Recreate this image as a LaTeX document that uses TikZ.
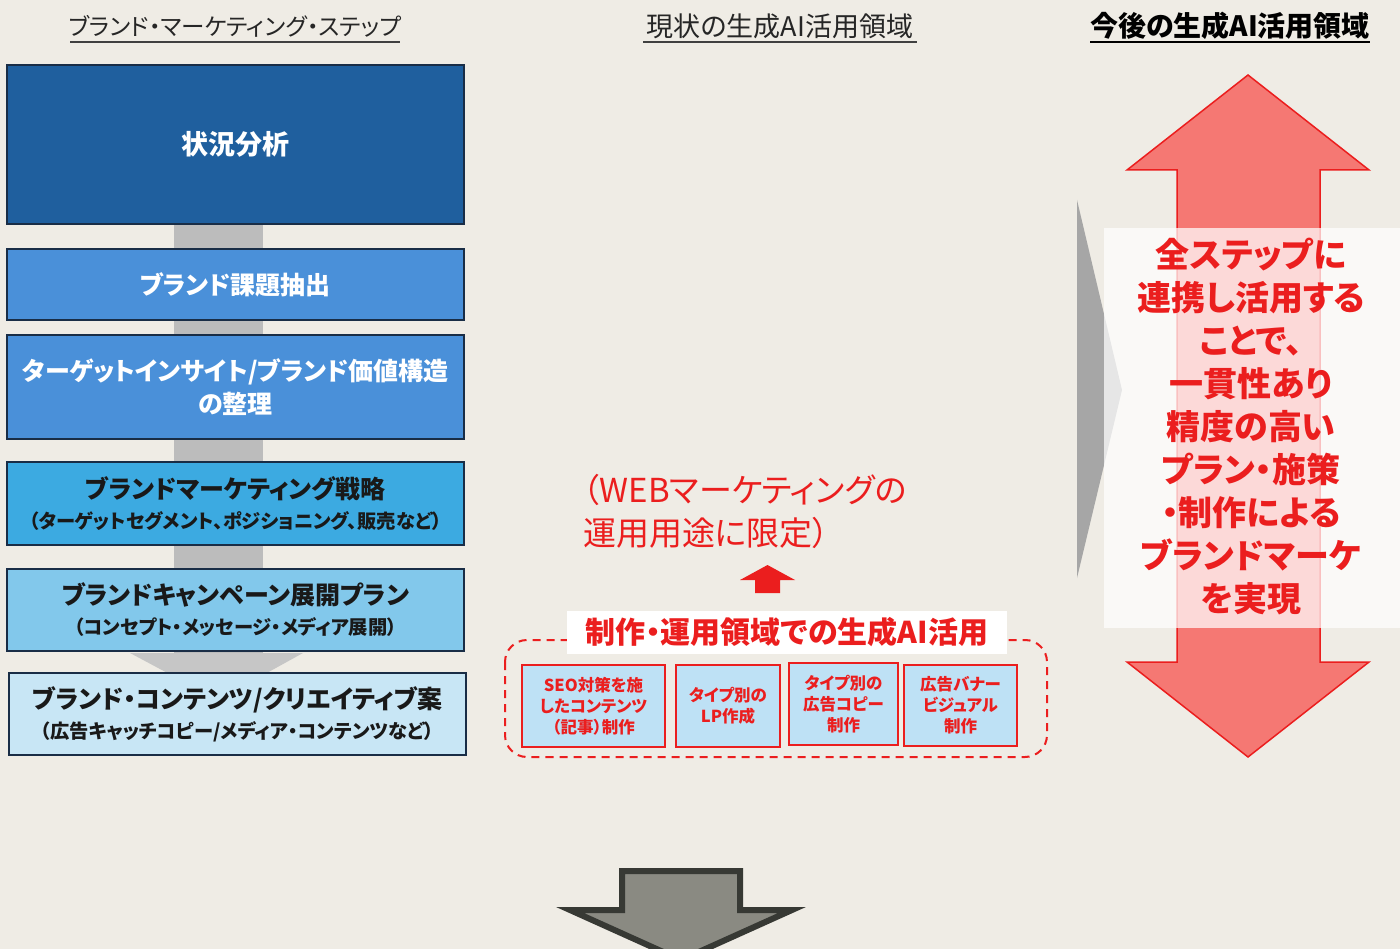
\documentclass[tikz,border=0pt]{standalone}
\usepackage{fontspec}
\setmainfont{Noto Sans CJK JP}[RawFeature=+palt]
\definecolor{bg}{RGB}{239,236,229}
\definecolor{boxline}{RGB}{25,45,70}
\definecolor{c1}{RGB}{31,95,158}
\definecolor{c2}{RGB}{74,144,217}
\definecolor{c4}{RGB}{60,170,225}
\definecolor{c5}{RGB}{130,200,235}
\definecolor{c6}{RGB}{200,230,245}
\definecolor{sb}{RGB}{190,225,245}
\definecolor{redt}{RGB}{235,30,30}
\definecolor{redf}{RGB}{245,120,115}
\definecolor{barg}{RGB}{188,188,188}
\definecolor{arrg}{RGB}{138,138,130}
\definecolor{arrd}{RGB}{55,57,52}
\tikzset{
  stepbox/.style={draw=boxline, line width=1.5pt, minimum width=457pt, align=center, inner sep=0pt},
  subbox/.style={draw=redt, line width=2pt, fill=sb, align=center, inner sep=0pt, text=redt,
     font=\bfseries\fontsize{16.5}{21}\selectfont},
  hdr/.style={anchor=center, inner sep=0pt, text=black!85},
  ttl/.style={font=\bfseries\fontsize{25}{30}\selectfont},
}
\newcommand{\subl}[1]{{\bfseries\fontsize{19.3}{22}\selectfont #1}}
\begin{document}
\begin{tikzpicture}[x=1pt,y=-1pt]
\fill[bg] (0,0) rectangle (1400,949);
\useasboundingbox (0,0) rectangle (1400,949);
% headers
\node[hdr, font=\fontsize{23.5}{28}\selectfont] (h1) at (235,26) {ブランド・マーケティング・ステップ};
\draw[black!75, line width=1.2pt] (70,42) -- (400,42);
\node[hdr, font=\fontsize{27}{30}\selectfont] (h2) at (780,26) {現状の生成AI活用領域};
\draw[black!75, line width=1.2pt] (643,42) -- (917,42);
\node[hdr, font=\bfseries\fontsize{28}{30}\selectfont, text=black] (h3) at (1230,26) {今後の生成AI活用領域};
\draw[black, line width=1.6pt] (1090,42) -- (1370,42);
% gray bar with arrow head
\fill[barg] (174,224) rectangle (263,653);
\fill[barg!85] (130,653) -- (303,653) -- (218,700) -- cycle;
% step boxes
\node[stepbox, fill=c1, minimum height=159pt, text=white, font=\bfseries\fontsize{27}{32}\selectfont] (s1) at (235.5,144.5) {状況分析};
\node[stepbox, fill=c2, minimum height=71pt, text=white, font=\bfseries\fontsize{25}{30}\selectfont] (s2) at (235.5,284.5) {ブランド課題抽出};
\node[stepbox, fill=c2, minimum height=104pt, text=white, font=\bfseries\fontsize{25}{33}\selectfont] (s3) at (235.5,387) {ターゲットインサイト/ブランド価値構造\\の整理};
\node[stepbox, fill=c4, minimum height=83pt, text=black!90, ttl] (s4) at (235.5,503.5) {ブランドマーケティング戦略\\[0pt]\subl{（ターゲットセグメント、ポジショニング、販売など）}};
\node[stepbox, fill=c5, minimum height=82pt, text=black!90, ttl] (s5) at (235.5,610) {ブランドキャンペーン展開プラン\\[0pt]\subl{（コンセプト・メッセージ・メディア展開）}};
\node[stepbox, fill=c6, minimum height=82pt, text=black!90, ttl] (s6) at (237.5,714) {ブランド・コンテンツ/クリエイティブ案\\[0pt]\subl{（広告キャッチコピー/メディア・コンテンツなど）}};
% middle column
\node[anchor=west, inner sep=0pt, text=redt, align=left, font=\fontsize{33}{43}\selectfont] (lim) at (583,511) {（WEBマーケティングの\\運用用途に限定）};
\fill[redt] (755,593) -- (755,580) -- (740,580) -- (767.5,565) -- (795,580) -- (780,580) -- (780,593) -- cycle;
\draw[redt, line width=2pt, dashed, dash pattern=on 8pt off 6pt, rounded corners=22pt] (505,640) rectangle (1047,757);
\node[fill=white, minimum width=440pt, minimum height=43pt, inner sep=0pt, text=redt, font=\bfseries\fontsize{30}{32}\selectfont] (lab) at (787,632) {制作・運用領域での生成AI活用};
\node[subbox, minimum width=143pt, minimum height=82pt] (a) at (593.5,706) {SEO対策を施\\したコンテンツ\\（記事）制作};
\node[subbox, minimum width=104pt, minimum height=82pt] (b) at (728,706) {タイプ別の\\LP作成};
\node[subbox, minimum width=109pt, minimum height=82pt] (c) at (843.5,704) {タイプ別の\\広告コピー\\制作};
\node[subbox, minimum width=113pt, minimum height=81pt] (d) at (960.5,705.5) {広告バナー\\ビジュアル\\制作};
% right column
\fill[black!35] (1077,200) -- (1122,390) -- (1077,578) -- cycle;
\draw[draw=redt, line width=1.5pt, fill=redf] (1248,75) -- (1369,170) -- (1320,170) -- (1320,662) -- (1369,662) -- (1248,757) -- (1127,662) -- (1177,662) -- (1177,170) -- (1127,170) -- cycle;
\fill[white, opacity=0.72] (1104,228) rectangle (1400,628);
\node[inner sep=0pt, align=center, text=redt, font=\bfseries\fontsize{34}{43}\selectfont] (msg) at (1251,427) {全ステップに\\連携し活用する\\ことで、\\一貫性あり\\精度の高い\\プラン・施策\\・制作による\\ブランドマーケ\\を実現};
% bottom arrow
\draw[fill=arrg, draw=arrd, line width=6pt, line join=miter] (622,871) -- (740,871) -- (740,910) -- (792,910) -- (681,960) -- (570,910) -- (622,910) -- cycle;
\end{tikzpicture}
\end{document}
